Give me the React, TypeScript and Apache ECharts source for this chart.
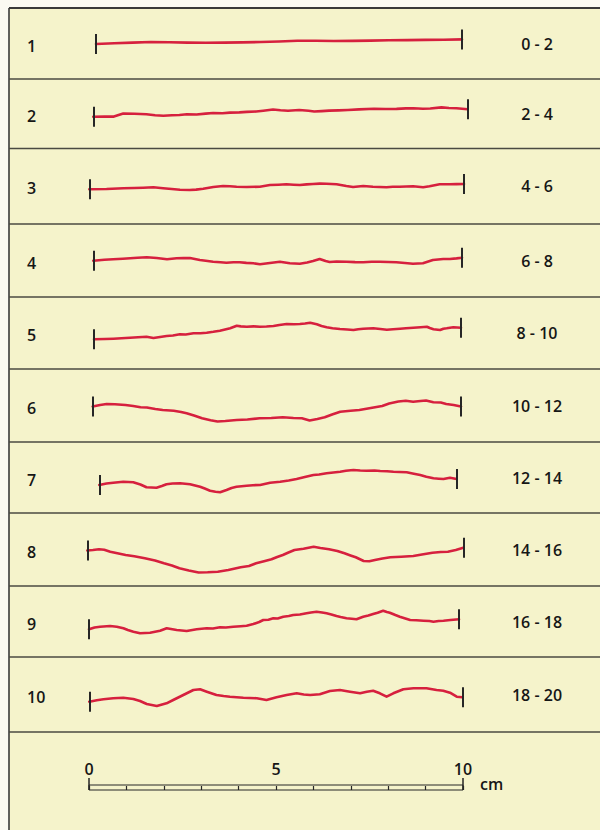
import React, { useEffect, useRef } from "react";
import * as echarts from "echarts";

// ---------- data ----------
const rowNumbers = ["1", "2", "3", "4", "5", "6", "7", "8", "9", "10"];
const jrcRanges = ["0 - 2", "2 - 4", "4 - 6", "6 - 8", "8 - 10", "10 - 12", "12 - 14", "14 - 16", "16 - 18", "18 - 20"];
const scaleLabelValues = [0, 5, 10];
const scaleUnit = "cm";

// profile heights (relative relief) along 0-10 cm
const profile1: [number, number][] = [
  [0, -2], [0.5, -1.2], [1, -0.6], [1.5, 0], [2, -0.2], [2.5, -0.6], [3, -0.8], [3.5, -0.6], [4, -0.4], [4.5, 0],
  [5, 0.5], [5.5, 1.2], [6, 1.3], [6.5, 1], [7, 1.1], [7.5, 1.4], [8, 1.7], [8.5, 1.9], [9, 2.1], [9.5, 2.3], [10, 2.6],
];
const profile2: [number, number][] = [
  [0, -3.7], [0.3, -3.5], [0.55, -3.6], [0.8, -0.5], [1.1, -0.8], [1.42, -1.2], [1.65, -2.2], [1.87, -2.8], [2.1, -2.2],
  [2.3, -2.0], [2.5, -1.2], [2.76, -1.5], [3.0, -0.6], [3.2, 0], [3.45, -0.2], [3.65, 0.4], [3.9, 0.6], [4.1, 1.1],
  [4.35, 1.5], [4.54, 2.3], [4.8, 3.5], [5.0, 2.8], [5.2, 2.3], [5.5, 3.0], [5.75, 2.2], [5.9, 1.5], [6.1, 1.9],
  [6.3, 2.4], [6.55, 2.6], [6.8, 3.0], [7.1, 3.6], [7.5, 4.3], [7.8, 4.0], [8.1, 4.1], [8.35, 4.6], [8.55, 4.8],
  [8.8, 4.3], [9.0, 4.5], [9.3, 5.6], [9.5, 5.0], [9.7, 4.8], [10, 3.7],
];
const profile3: [number, number][] = [
  [0, -3.3], [0.46, -3], [0.91, -2.3], [1.2, -2], [1.44, -1.7], [1.71, -1.3], [1.97, -2.3], [2.2, -3], [2.42, -3.7],
  [2.68, -4], [2.85, -3.6], [3.04, -2.7], [3.31, -1], [3.57, 0], [3.75, -0.3], [3.93, -0.7], [4.2, -1], [4.55, -0.7],
  [4.82, 1], [5.05, 1.3], [5.26, 1.7], [5.45, 1.3], [5.62, 1], [5.8, 1.6], [5.97, 2], [6.15, 2.4], [6.33, 2.3],
  [6.6, 1.7], [6.86, 0], [7.04, -1], [7.31, 0], [7.57, -0.7], [7.93, -1.3], [8.1, -0.8], [8.28, -0.7], [8.64, -0.3],
  [8.91, -1.3], [9.08, -0.3], [9.35, 1.7], [9.62, 1.7], [9.8, 1.9], [10, 2],
];
const profile4: [number, number][] = [
  [0, -1.7], [0.3, -0.8], [0.54, -0.3], [0.8, 0.2], [1.0, 0.7], [1.2, 1.2], [1.45, 1.7], [1.72, 1], [2.0, -0.3],
  [2.26, 0.7], [2.45, 0.9], [2.62, 1], [2.89, -1], [3.05, -1.8], [3.25, -2.7], [3.45, -3.3], [3.61, -3.7], [3.8, -3.2],
  [3.97, -3.3], [4.15, -3.9], [4.34, -4.3], [4.52, -5.3], [4.79, -4], [5.06, -2.7], [5.33, -4.3], [5.6, -4.7],
  [5.8, -3.5], [5.96, -2], [6.14, 0], [6.3, -2], [6.41, -3], [6.6, -2.5], [6.87, -2.7], [7.1, -3.1], [7.32, -3.3],
  [7.55, -2.8], [7.77, -2.7], [8.0, -3], [8.22, -3.3], [8.45, -4], [8.67, -4.7], [8.94, -4.3], [9.21, -1], [9.49, 0],
  [9.67, 0], [9.85, 0.6], [10, 1.3],
];
const profile5: [number, number][] = [
  [0, -9.3], [0.3, -9], [0.53, -8.7], [0.75, -8.3], [0.98, -7.7], [1.2, -7.2], [1.43, -6.7], [1.62, -8], [1.8, -7],
  [1.98, -6], [2.15, -5.5], [2.34, -4.3], [2.5, -4.5], [2.71, -3.3], [2.9, -3.2], [3.07, -2.7], [3.25, -1.8],
  [3.43, -0.7], [3.6, 0.8], [3.71, 1.7], [3.89, 4.3], [4.0, 3.6], [4.16, 3.3], [4.35, 3.6], [4.52, 3.3], [4.7, 3.5],
  [4.89, 4], [5.05, 5], [5.25, 6], [5.45, 5.8], [5.61, 6], [5.75, 6.5], [5.89, 7.3], [6.07, 5.7], [6.2, 4], [6.34, 2.7],
  [6.5, 1.8], [6.7, 1], [6.9, 0.5], [7.07, 0], [7.2, 0.8], [7.34, 1.3], [7.61, 1.7], [7.8, 1], [7.98, 0.3], [8.15, 0.8],
  [8.34, 1.3], [8.5, 1.8], [8.7, 2.3], [8.9, 2.8], [9.07, 3.3], [9.15, 2], [9.25, 0.7], [9.43, 0], [9.52, 1.3],
  [9.61, 1.7], [9.79, 2.7], [10, 2.3],
];
const profile6: [number, number][] = [
  [0, 1.5], [0.2, 3], [0.38, 4], [0.6, 3.8], [0.89, 3], [1.1, 2], [1.3, 0.7], [1.47, 0.5], [1.7, -1], [1.9, -2],
  [2.2, -2.8], [2.4, -4], [2.55, -5.3], [2.75, -7.5], [2.97, -10.3], [3.2, -12.3], [3.39, -13.5], [3.6, -13],
  [3.91, -12], [4.2, -11.5], [4.53, -10.3], [4.85, -10], [5.16, -9.3], [5.45, -10], [5.68, -10.3], [5.89, -12.5],
  [6.1, -11], [6.3, -9.3], [6.5, -6.5], [6.72, -3.7], [7.0, -2.8], [7.24, -2], [7.55, 0], [7.86, 2], [8.05, 4.5],
  [8.3, 6.5], [8.5, 7.3], [8.7, 6.3], [8.9, 7], [9.05, 7.5], [9.25, 5.8], [9.45, 5.5], [9.6, 4], [9.8, 3], [10, 1.5],
];
const profile7: [number, number][] = [
  [0, -5], [0.2, -3.5], [0.39, -2.7], [0.67, -1.7], [0.95, -2.3], [1.15, -4.5], [1.32, -7.3], [1.6, -7.7], [1.75, -6],
  [1.88, -4.3], [2.05, -3.5], [2.26, -3.3], [2.54, -4.3], [2.82, -6.7], [2.95, -8.5], [3.1, -10.7], [3.25, -11.8],
  [3.38, -12.3], [3.56, -10], [3.7, -8], [3.84, -6.7], [4.12, -5.7], [4.3, -5.2], [4.5, -5], [4.78, -2.7], [5.06, -1.7],
  [5.3, -0.5], [5.52, 1], [5.75, 3], [5.99, 5], [6.15, 5.5], [6.36, 6.7], [6.55, 7.5], [6.74, 8.3], [6.9, 9.3],
  [7.11, 10], [7.3, 9.5], [7.48, 9.3], [7.7, 9.5], [7.86, 9], [8.05, 8.8], [8.23, 8.3], [8.4, 8], [8.6, 7.7],
  [8.8, 6.3], [8.98, 5], [9.15, 3.3], [9.35, 1.7], [9.5, 1.3], [9.63, 1], [9.81, 2.3], [10, 1],
];
const profile8: [number, number][] = [
  [0, 0.5], [0.15, 1], [0.31, 1.7], [0.45, 1.2], [0.61, -0.7], [0.8, -2.3], [1.02, -4], [1.25, -5.3], [1.53, -7.3],
  [1.8, -9.5], [2.04, -12.3], [2.25, -14.5], [2.45, -17.3], [2.7, -19.5], [2.96, -21.5], [3.2, -21.3], [3.47, -20.7],
  [3.75, -19], [4.08, -16.3], [4.3, -15], [4.49, -12.3], [4.7, -10.3], [4.9, -8.3], [5.05, -6], [5.2, -4], [5.35, -1.5],
  [5.51, 1], [5.75, 2.3], [6.02, 4.2], [6.2, 3], [6.43, 1.7], [6.65, 0], [6.84, -2.3], [7.0, -4.5], [7.14, -6.3],
  [7.35, -10], [7.5, -10.3], [7.65, -9], [7.85, -7.5], [8.06, -6.3], [8.35, -5.8], [8.67, -5], [8.9, -3.5],
  [9.18, -1.7], [9.4, -1], [9.59, -0.7], [9.8, 1], [10, 3.3],
];
const profile9: [number, number][] = [
  [0, -4.3], [0.15, -2.5], [0.3, -1.7], [0.57, -1], [0.75, -1.7], [0.93, -3.3], [1.05, -5], [1.2, -6.7], [1.38, -8.3],
  [1.65, -7.7], [1.92, -5.7], [2.1, -3.3], [2.37, -5], [2.64, -6], [2.91, -4.3], [3.18, -3.3], [3.35, -3.5],
  [3.54, -2.3], [3.7, -2.5], [3.9, -1.7], [4.1, -1.2], [4.26, -0.7], [4.44, 1], [4.6, 3], [4.71, 5], [4.85, 5.3],
  [4.98, 6.7], [5.1, 6.5], [5.25, 8.3], [5.4, 9], [5.52, 10], [5.7, 10.5], [5.88, 11.7], [6.0, 12.5], [6.15, 13.3],
  [6.3, 12.5], [6.42, 11.7], [6.55, 10.5], [6.69, 9], [6.8, 8], [6.96, 6.7], [7.1, 6.2], [7.23, 5.7], [7.41, 8.3],
  [7.55, 9.5], [7.68, 11], [7.8, 12.3], [7.95, 14.3], [8.05, 13], [8.13, 12.3], [8.28, 10], [8.4, 8.3], [8.55, 6.5],
  [8.68, 5], [8.85, 4.8], [9.04, 4.3], [9.2, 4], [9.31, 3.3], [9.45, 4], [9.58, 4.3], [9.77, 5], [10, 5.7],
];
const profile10: [number, number][] = [
  [0, -4.7], [0.2, -3.2], [0.38, -2.3], [0.64, -1.3], [0.91, -0.7], [1.18, -2], [1.36, -4], [1.54, -7], [1.81, -9],
  [2.07, -6.3], [2.25, -3], [2.52, 2], [2.79, 7], [2.97, 7.7], [3.15, 5.3], [3.41, 2], [3.6, 1], [3.77, 0.3],
  [4.13, -0.7], [4.49, -1.3], [4.75, -3], [5.02, -0.3], [5.29, 2], [5.56, 3.7], [5.75, 2.5], [5.92, 2], [6.18, 2.7],
  [6.45, 6], [6.72, 7], [6.99, 5.3], [7.26, 3.7], [7.44, 5.3], [7.61, 6.3], [7.79, 3.7], [7.97, 0.3], [8.15, 3.7],
  [8.42, 7.7], [8.69, 8.7], [9.04, 8.7], [9.31, 7], [9.49, 6.3], [9.67, 4.3], [9.85, 0.3], [10, -0.3],
];

const profiles = [profile1, profile2, profile3, profile4, profile5, profile6, profile7, profile8, profile9, profile10];

// ---------- layout (positions / styles) ----------
const W = 600;
const H = 830;
const BOX_LEFT = 9;
const BOX_TOP = 8;
const rowBaselines = [42, 113, 186, 259, 330, 408, 480, 551, 625, 697];
const rowStartX = [96, 93.3, 89.3, 93.3, 94, 92.7, 99.3, 87.3, 89, 89.3];
const rowEndX = [462, 467.7, 464, 462, 461, 461, 456.7, 463.3, 459, 462.3];
const separatorsY = [79, 148.5, 224, 297, 369, 442, 513, 586, 657, 732];
const HALF = 30; // grid half-height in px = y-axis half range
const TICK_HALF = 10;
const RED = "#d6203e";
const INK = "#262626";
const TEXT = "#161616";
const BG = "#f5f3cb";
const FONT = "'Open Sans', 'Noto Sans', sans-serif";
const FONT_SIZE = 16;
const FONT_WEIGHT = 600;

export default function App() {
  const ref = useRef<HTMLDivElement>(null);

  useEffect(() => {
    document.body.style.margin = "0";
    if (!ref.current) return;
    const chart = echarts.init(ref.current, undefined, { renderer: "svg" });

    const grids: any[] = [];
    const xAxes: any[] = [];
    const yAxes: any[] = [];
    const series: any[] = [];

    profiles.forEach((p, i) => {
      grids.push({
        left: rowStartX[i],
        width: rowEndX[i] - rowStartX[i],
        top: rowBaselines[i] - HALF,
        height: HALF * 2,
      });
      xAxes.push({ type: "value", gridIndex: i, min: 0, max: 10, show: false });
      yAxes.push({ type: "value", gridIndex: i, min: -HALF, max: HALF, show: false });
      const first = p[0][1];
      const last = p[p.length - 1][1];
      series.push({
        type: "line",
        xAxisIndex: i,
        yAxisIndex: i,
        data: p,
        showSymbol: false,
        symbol: "none",
        smooth: false,
        lineStyle: { color: RED, width: 2.6, join: "round", cap: "round" },
        silent: true,
        markLine: {
          silent: true,
          symbol: "none",
          label: { show: false },
          lineStyle: { color: INK, width: 2, type: "solid" },
          data: [
            [{ coord: [0, first - TICK_HALF] }, { coord: [0, first + TICK_HALF] }],
            [{ coord: [10, last - TICK_HALF] }, { coord: [10, last + TICK_HALF] }],
          ],
        },
      });
    });

    // scale bar grid
    const sIdx = profiles.length;
    grids.push({
      left: 89,
      width: 374,
      top: 785,
      height: 5,
      show: true,
      borderColor: INK,
      borderWidth: 1,
      backgroundColor: "transparent",
    });
    xAxes.push({
      type: "value",
      gridIndex: sIdx,
      position: "top",
      min: 0,
      max: 10,
      interval: 1,
      axisLine: { show: false },
      splitLine: { show: false },
      axisTick: { show: true, length: 4, lineStyle: { color: INK, width: 1.2 } },
      axisLabel: {
        show: true,
        margin: 8,
        fontSize: FONT_SIZE,
        fontWeight: FONT_WEIGHT,
        fontFamily: FONT,
        color: TEXT,
        formatter: (v: number) => (scaleLabelValues.indexOf(v) >= 0 ? String(v) : ""),
      },
    });
    xAxes.push({
      type: "value",
      gridIndex: sIdx,
      position: "bottom",
      min: 0,
      max: 10,
      interval: 10,
      axisLine: { show: false },
      splitLine: { show: false },
      axisLabel: { show: false },
      axisTick: { show: true, inside: true, length: 12, lineStyle: { color: INK, width: 1.5 } },
    });
    yAxes.push({ type: "value", gridIndex: sIdx, min: 0, max: 1, show: false });
    series.push({
      type: "line",
      xAxisIndex: sIdx,
      yAxisIndex: sIdx,
      data: [],
      silent: true,
    });

    // background / frame / labels
    const bounds = [BOX_TOP, ...separatorsY];
    const mids = rowNumbers.map((_, i) => (bounds[i] + bounds[i + 1]) / 2);
    const textStyle = (text: string, align: string) => ({
      text,
      fontSize: FONT_SIZE,
      fontWeight: FONT_WEIGHT,
      fontFamily: FONT,
      fill: TEXT,
      align,
      verticalAlign: "middle",
      textAlign: align,
      textVerticalAlign: "middle",
    });
    const graphic: any[] = [
      { type: "rect", shape: { x: 0, y: 0, width: W, height: BOX_TOP }, style: { fill: "#fbfaf2" }, silent: true },
      { type: "rect", shape: { x: 0, y: 0, width: BOX_LEFT, height: H }, style: { fill: "#fbfaf2" }, silent: true },
      { type: "line", shape: { x1: BOX_LEFT, y1: BOX_TOP, x2: W, y2: BOX_TOP }, style: { stroke: "#3a3a3a", lineWidth: 1.8 }, silent: true },
      { type: "line", shape: { x1: BOX_LEFT, y1: BOX_TOP, x2: BOX_LEFT, y2: H }, style: { stroke: "#3a3a3a", lineWidth: 1.6 }, silent: true },
      ...separatorsY.map((y) => ({
        type: "line",
        shape: { x1: BOX_LEFT, y1: y, x2: W, y2: y },
        style: { stroke: "#4a4a42", lineWidth: 1.6 },
        silent: true,
      })),
      ...rowNumbers.map((t, i) => ({
        type: "text",
        x: 27,
        y: mids[i] + 2,
        silent: true,
        style: textStyle(t, "left"),
      })),
      ...jrcRanges.map((t, i) => ({
        type: "text",
        x: 537,
        y: mids[i],
        silent: true,
        style: textStyle(t, "center"),
      })),
      {
        type: "text",
        x: 480,
        y: 784,
        silent: true,
        style: textStyle(scaleUnit, "left"),
      },
    ];

    chart.setOption({
      animation: false,
      backgroundColor: BG,
      grid: grids,
      xAxis: xAxes,
      yAxis: yAxes,
      series,
      graphic,
    });

    return () => chart.dispose();
  }, []);

  return <div ref={ref} style={{ width: W, height: H }} />;
}
